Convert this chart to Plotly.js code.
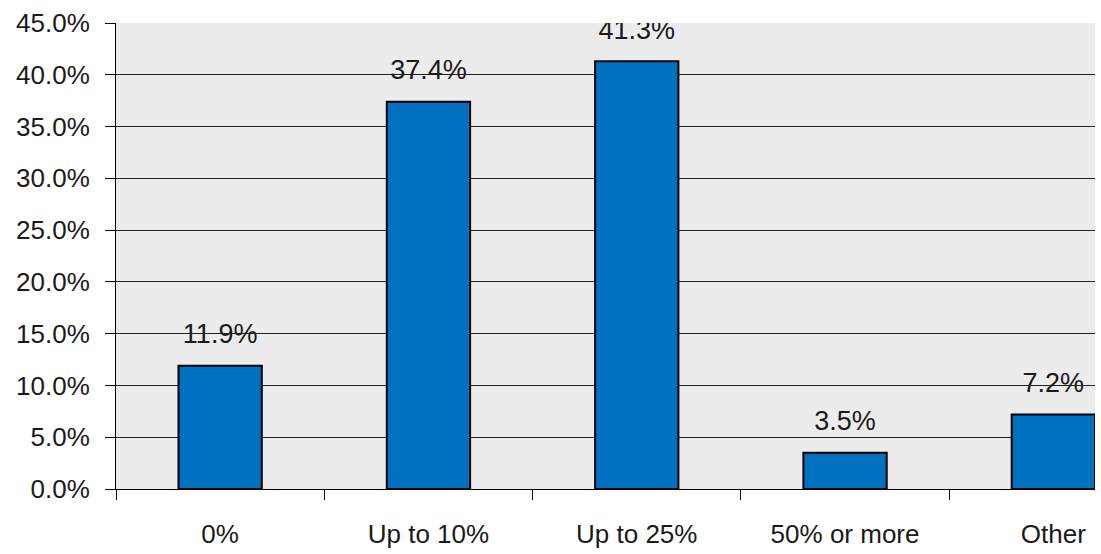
<!DOCTYPE html>
<html>
<head>
<meta charset="utf-8">
<script src="https://cdn.plot.ly/plotly-3.0.1.min.js"></script>
<style>html,body{margin:0;padding:0;background:#fff;}#chart{width:1101px;height:554px;}</style>
</head>
<body>
<div id="chart"></div>
<script>
var categories = ["0%", "Up to 10%", "Up to 25%", "50% or more", "Other"];
var values = [11.9, 37.4, 41.3, 3.5, 7.2];
var labels = ["11.9%", "37.4%", "41.3%", "3.5%", "7.2%"];
var yTicks = [0, 5, 10, 15, 20, 25, 30, 35, 40, 45];
var yTickLabels = ["0.0%", "5.0%", "10.0%", "15.0%", "20.0%", "25.0%", "30.0%", "35.0%", "40.0%", "45.0%"];

var font = {family: "Liberation Sans, Arial, sans-serif", size: 26, color: "#1a1a1a"};

var bars = {
  type: "bar",
  x: categories,
  y: values,
  marker: {color: "#0070c0", line: {color: "#000000", width: 2}},
  hoverinfo: "skip",
  showlegend: false
};

var textTrace = {
  type: "scatter",
  mode: "markers+text",
  x: categories,
  y: values,
  text: labels,
  textposition: "top center",
  textfont: {family: font.family, size: 27, color: "#1a1a1a"},
  marker: {size: 24, opacity: 0},
  cliponaxis: true,
  hoverinfo: "skip",
  showlegend: false
};

var layout = {
  width: 1101,
  height: 554,
  margin: {l: 116, r: 6, t: 23, b: 65},
  paper_bgcolor: "#ffffff",
  plot_bgcolor: "#ececec",
  bargap: 0.6,
  font: font,
  xaxis: {
    type: "category",
    range: [-0.5, 4.2],
    tickson: "boundaries",
    ticks: "outside",
    ticklen: 10,
    tickwidth: 1,
    tickcolor: "#000",
    showgrid: false,
    showline: true,
    linecolor: "#000",
    linewidth: 1,
    ticklabelstandoff: 22,
    tickfont: {family: font.family, size: 26, color: "#1a1a1a"},
    zeroline: false
  },
  yaxis: {
    range: [0, 45],
    tickmode: "array",
    tickvals: yTicks,
    ticktext: yTickLabels,
    ticks: "outside",
    ticklen: 10,
    tickwidth: 1,
    tickcolor: "#000",
    showgrid: true,
    gridcolor: "#222",
    gridwidth: 1,
    showline: true,
    linecolor: "#000",
    linewidth: 1,
    zeroline: false,
    ticklabelstandoff: 10,
    tickfont: {family: font.family, size: 26, color: "#1a1a1a"}
  }
};

Plotly.newPlot("chart", [bars, textTrace], layout, {staticPlot: true});
</script>
</body>
</html>
